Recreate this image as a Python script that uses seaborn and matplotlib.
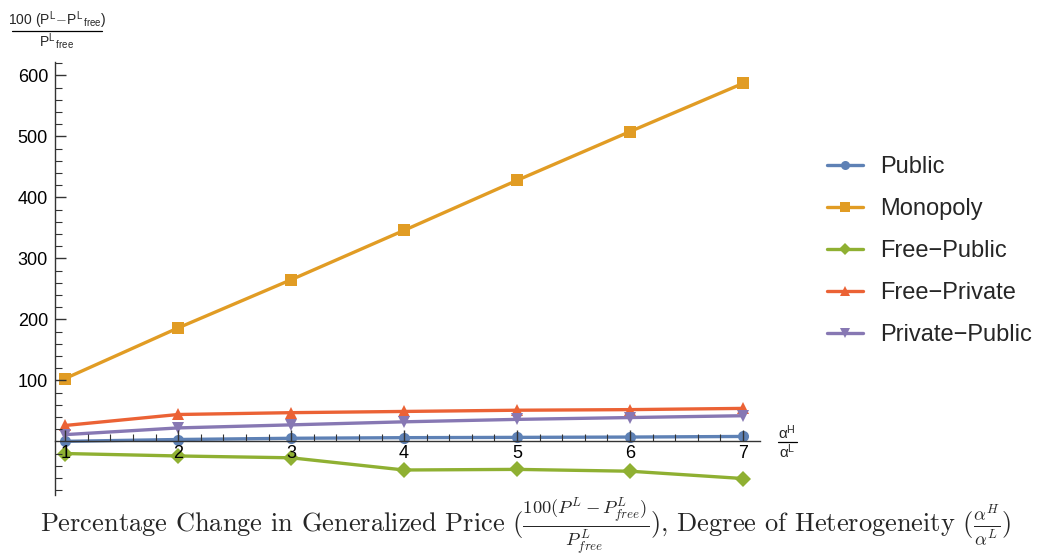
import seaborn as sns
import matplotlib.pyplot as plt
from matplotlib.ticker import MultipleLocator, FixedLocator
from matplotlib.lines import Line2D
import pandas as pd

# Degree of heterogeneity (alpha_H / alpha_L)
ratio = [1, 2, 3, 4, 5, 6, 7]

# percentage change in generalized price per regime
public = [0, 3, 5, 6, 6.5, 7, 8]
monopoly = [103, 186, 265, 346, 428, 508, 587]
free_public = [-20, -24, -27, -47, -46, -49, -61]
free_private = [26, 44, 47, 49, 51, 52, 54]
private_public = [11, 22, 27, 32, 36, 39, 42]

series = ["Public", "Monopoly", "Free\u2212Public", "Free\u2212Private", "Private\u2212Public"]
values = [public, monopoly, free_public, free_private, private_public]

rows = []
for name, vals in zip(series, values):
    for x, v in zip(ratio, vals):
        rows.append({"ratio": x, "change": v, "regime": name})
df = pd.DataFrame(rows)

sns.set_style("ticks")
plt.rcParams['font.family'] = ['Liberation Sans', 'DejaVu Sans']
plt.rcParams['mathtext.fontset'] = 'cm'

colors = ["#5E81B5", "#E19C24", "#8FB032", "#EB6235", "#8778B3"]
markers = ["o", "s", "D", "^", "v"]

fig = plt.figure(figsize=(10.49, 5.56), dpi=100)
ax = fig.add_axes([55 / 1049, 1 - 495 / 556, (760 - 55) / 1049, (495 - 62) / 556])

sns.lineplot(data=df, x="ratio", y="change", hue="regime", style="regime",
             hue_order=series, style_order=series,
             palette=dict(zip(series, colors)), markers=dict(zip(series, markers)),
             dashes=False, linewidth=2.4, markersize=8, markeredgewidth=0,
             ax=ax, legend=False)

ax.set_xlim(0.91, 7.15)
ax.set_ylim(-88, 622)
ax.set_axisbelow(False)

# Mathematica-like axes crossing at y=0
ax.spines['top'].set_visible(False)
ax.spines['right'].set_visible(False)
ax.spines['bottom'].set_position(('data', 0))
for s in ['left', 'bottom']:
    ax.spines[s].set_color('#333333')
    ax.spines[s].set_linewidth(1.0)

ax.xaxis.set_major_locator(FixedLocator(ratio))
ax.xaxis.set_minor_locator(MultipleLocator(0.2))
ax.yaxis.set_major_locator(FixedLocator([100, 200, 300, 400, 500, 600]))
ax.yaxis.set_minor_locator(FixedLocator([v for v in range(-80, 621, 20) if v % 100 != 0]))
ax.tick_params(which='both', direction='in', color='#333333', labelsize=13, labelcolor='black')
ax.tick_params(which='major', length=8, width=1)
ax.tick_params(which='minor', length=5, width=0.8)
ax.tick_params(axis='x', pad=3)
ax.tick_params(axis='y', pad=5)
ax.set_xlabel("")
ax.set_ylabel("")
ax.grid(False)

handles = [Line2D([], [], color=c, marker=m, lw=2.4, ms=6.5, mew=0) for c, m in zip(colors, markers)]
ax.legend(handles, series, loc='center left', bbox_to_anchor=(806 / 1049, 1 - 251 / 556),
          bbox_transform=fig.transFigure, frameon=False, fontsize=17,
          handlelength=1.5, labelspacing=0.85, handletextpad=0.75)

# y axis label as a small fraction in the top-left corner
fig.text(57 / 1049, 1 - 20 / 556, r'100 (P$^{\mathregular{L}}$$-$P$^{\mathregular{L}}$$_{\mathregular{free}}$)',
         ha='center', va='center', fontsize=10)
fig.add_artist(Line2D([12 / 1049, 102 / 1049], [1 - 31 / 556, 1 - 31 / 556],
                      transform=fig.transFigure, color='black', lw=0.9))
fig.text(57 / 1049, 1 - 42 / 556, r'P$^{\mathregular{L}}$$_{\mathregular{free}}$',
         ha='center', va='center', fontsize=10)

# x axis label fraction at the right end of the axis
fig.text(787 / 1049, 1 - 433 / 556, r'$\mathregular{\alpha^H}$', ha='center', va='center', fontsize=11)
fig.add_artist(Line2D([778 / 1049, 797 / 1049], [1 - 442 / 556, 1 - 442 / 556],
                      transform=fig.transFigure, color='black', lw=0.9))
fig.text(787 / 1049, 1 - 452 / 556, r'$\mathregular{\alpha^L}$', ha='center', va='center', fontsize=11)

fig.text(526 / 1049, 1 - 526 / 556,
         r'Percentage Change in Generalized Price ($\frac{100(P^L-P^L_{free})}{P^L_{free}}$), '
         r'Degree of Heterogeneity ($\frac{\alpha^H}{\alpha^L}$)',
         ha='center', va='center', fontsize=19, family='cmr10')

plt.savefig("out.png", dpi=100)
